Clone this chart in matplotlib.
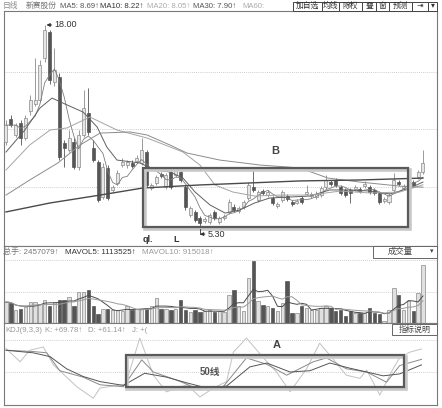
import numpy as np
import pandas as pd
import matplotlib
matplotlib.use("Agg")
import matplotlib.pyplot as plt
from matplotlib import patches

plt.rcParams['font.family'] = ['Liberation Sans', 'DejaVu Sans', 'Noto Sans CJK SC']
plt.rcParams['axes.unicode_minus'] = False

# 日K线 (开 高 低 收)
opens = [10.71, 12.15, 11.15, 11.90, 10.96, 12.64, 13.08, 13.33, 15.95, 17.56,
         14.45, 14.76, 10.65, 10.22, 10.71, 9.16, 11.15, 12.52, 10.34, 9.47,
         7.29, 9.10, 7.73, 8.16, 9.28, 9.28, 9.41, 9.53, 9.41, 10.09,
         7.85, 8.16, 8.72, 7.91, 8.85, 8.66, 8.85, 7.91, 6.17, 6.36,
         5.98, 5.80, 5.73, 6.36, 5.73, 5.98, 6.36, 6.67, 6.42, 6.67,
         7.23, 7.91, 7.10, 7.66, 7.41, 7.23, 6.73, 7.10, 7.35, 6.98,
         6.92, 7.23, 7.48, 7.35, 7.29, 7.41, 7.91, 8.22, 8.35, 7.91,
         7.73, 7.73, 7.79, 7.79, 7.97, 7.91, 7.73, 7.54, 7.04, 6.98,
         7.73, 8.22, 7.85, 7.91, 8.22, 8.53, 8.85]
highs = [12.08, 12.40, 11.90, 12.08, 12.40, 13.64, 15.95, 15.82, 18.00, 17.69,
         16.57, 15.00, 10.84, 11.46, 10.96, 11.46, 13.95, 14.08, 10.84, 9.59,
         9.41, 9.28, 8.04, 8.97, 9.72, 9.59, 9.59, 9.90, 10.96, 10.22,
         8.16, 8.66, 8.85, 8.78, 8.97, 9.10, 9.03, 8.04, 6.73, 6.48,
         6.11, 6.04, 6.29, 6.48, 6.11, 6.23, 7.16, 6.85, 6.73, 7.10,
         8.22, 9.10, 7.73, 7.79, 7.73, 7.35, 6.98, 7.73, 7.48, 7.10,
         7.16, 7.35, 8.04, 7.60, 7.66, 7.97, 8.66, 8.35, 8.47, 8.04,
         7.85, 7.85, 8.04, 7.91, 8.29, 8.04, 7.85, 7.66, 7.29, 7.54,
         8.78, 8.35, 8.10, 8.47, 8.35, 8.97, 10.22]
lows = [10.53, 11.65, 11.02, 10.53, 10.84, 12.40, 12.96, 13.20, 15.70, 14.30,
        14.20, 9.59, 9.16, 10.09, 9.03, 8.97, 11.02, 11.15, 9.47, 6.98,
        7.16, 7.10, 7.60, 8.04, 9.16, 9.10, 9.10, 9.41, 9.28, 7.91,
        7.73, 8.04, 8.47, 7.79, 7.79, 8.53, 8.22, 6.48, 6.04, 5.73,
        5.30, 5.67, 5.60, 5.86, 5.60, 5.86, 6.23, 6.36, 6.29, 6.54,
        7.10, 7.60, 6.98, 7.41, 7.29, 6.79, 6.60, 6.98, 7.04, 6.73,
        6.85, 6.85, 7.41, 7.23, 7.16, 7.29, 7.79, 7.97, 7.91, 7.41,
        7.29, 6.92, 7.66, 7.54, 7.85, 7.48, 7.41, 6.85, 6.92, 6.85,
        7.60, 7.97, 7.73, 7.79, 7.91, 8.41, 8.72]
closes = [11.77, 11.77, 11.77, 10.96, 12.21, 13.33, 13.33, 15.51, 17.69, 14.58,
          15.20, 9.78, 10.34, 10.96, 9.16, 11.15, 12.83, 11.34, 9.59, 7.10,
          9.16, 7.23, 7.91, 8.78, 9.47, 9.47, 9.22, 9.72, 10.22, 8.04,
          8.04, 8.53, 8.60, 8.66, 7.91, 8.97, 8.35, 6.67, 6.60, 5.86,
          5.67, 5.92, 6.17, 5.98, 5.98, 6.11, 6.98, 6.48, 6.60, 6.98,
          8.04, 7.73, 7.60, 7.54, 7.60, 6.92, 6.85, 7.60, 7.16, 6.85,
          7.04, 6.98, 7.60, 7.48, 7.48, 7.85, 8.35, 8.10, 8.04, 7.54,
          7.41, 7.54, 7.91, 7.66, 8.10, 7.60, 7.54, 6.98, 7.16, 7.41,
          8.35, 8.10, 7.97, 8.35, 8.04, 8.85, 9.41]

# 成交量 (手)
volumes = [883000, 841000, 547000, 589000, 673000, 883000, 883000, 799000, 947000, 736000,
           883000, 968000, 947000, 1094000, 736000, 1304000, 1304000, 1388000, 736000, 358000,
           589000, 589000, 526000, 526000, 505000, 736000, 526000, 589000, 589000, 589000,
           736000, 1052000, 589000, 589000, 526000, 589000, 968000, 526000, 463000, 526000,
           463000, 505000, 526000, 463000, 505000, 463000, 1195000, 1405000, 703000, 492000,
           1893000, 2596000, 913000, 774000, 703000, 631000, 492000, 841000, 1754000, 421000,
           421000, 703000, 631000, 564000, 564000, 631000, 703000, 631000, 492000, 564000,
           282000, 492000, 421000, 421000, 421000, 631000, 421000, 379000, 101000, 564000,
           1472000, 1195000, 564000, 913000, 492000, 1262000, 2457079]

# 均线
ma10_idx = [0, 3.9, 7.0, 9.5, 12.6, 15.9, 18.8, 20.8, 22.9, 27.6, 30.7, 33.8, 36.5, 39.0,
            42.1, 45.2, 48.2, 51.3, 54.4, 58.6, 62.7, 66.8, 70.9, 75.1, 79.2, 83.3, 86.0]
ma10_val = [10.09, 11.46, 12.83, 13.45, 13.02, 12.58, 11.65, 10.40, 9.59, 9.41, 8.97, 8.85, 8.47, 7.60,
            6.79, 6.29, 6.48, 6.92, 7.23, 7.29, 7.35, 7.73, 7.73, 7.66, 7.48, 7.85, 8.22]
ma20_idx = [0, 4.9, 9.1, 12.6, 17.3, 22.9, 29.1, 32.8, 36.5, 40.0, 43.1, 46.8, 51.3, 56.5,
            62.7, 68.9, 75.1, 81.2, 86.0]
ma20_val = [8.97, 10.53, 11.46, 11.59, 12.27, 11.46, 10.96, 10.53, 10.09, 9.28, 8.04, 7.60, 7.35, 7.41,
            7.41, 7.66, 7.54, 7.60, 8.05]
ma30_idx = [0, 4.9, 10.7, 15.3, 19.4, 25.6, 29.1, 33.8, 37.3, 44.1, 52.4, 60.6, 66.4, 73.0, 81.2, 86.0]
ma30_val = [7.41, 8.35, 9.41, 10.53, 11.27, 11.34, 11.15, 10.53, 10.03, 9.59, 9.28, 9.10, 8.47, 8.22,
            7.97, 7.90]
ma60_idx = [0, 9.1, 19.4, 28.2, 40.0, 60.6, 73.0, 86.0]
ma60_val = [6.36, 6.92, 7.41, 7.85, 8.04, 8.29, 8.35, 8.47]

# KDJ
k_idx = [0, 5.6, 8.4, 11.1, 15.9, 19.4, 24.2, 28.0, 30.4, 36.0, 40.0, 44.8, 49.6, 53.8, 57.9,
         63.4, 66.1, 70.2, 74.4, 78.5, 81.2, 85.7]
k_val = [84, 82, 80, 52, 42, 30, 27, 69, 50, 35, 22, 27, 72, 62, 45, 66, 72, 55, 50, 34, 60, 69.78]
d_idx = [0, 5.6, 9.1, 12.5, 15.9, 19.4, 24.2, 28.6, 33.1, 37.3, 41.4, 45.5, 50.3, 53.8, 58.6,
         62.7, 66.8, 70.9, 74.4, 77.8, 81.2, 85.7]
d_val = [84, 80, 74, 55, 43, 35, 29, 48, 42, 33, 25, 28, 58, 64, 50, 52, 64, 56, 50, 44, 47, 61.14]
j_idx = [0, 2.9, 4.9, 7.7, 9.8, 14.6, 18.0, 19.4, 22.1, 24.7, 27.6, 30.4, 33.1, 37.3, 40.0, 42.8,
         45.5, 46.9, 49.6, 53.1, 55.8, 58.6, 62.0, 64.7, 67.5, 70.2, 73.0, 74.4, 77.1, 79.9, 81.2,
         83.3, 85.7]
j_val = [87, 66, 84, 89, 61, 27, 9, 25, 28, 31, 103, 45, 19, 30, 11, 25, 35, 81, 103, 72, 50, 19,
         55, 95, 70, 45, 40, 53, 14, 56, 72, 81, 86]

price_grid = [7.9, 11.5, 15.1]
vol_grid = [1300000, 2650000]
kdj_grid = [50, 100]

W, H = 442, 408
fig = plt.figure(figsize=(W / 100, H / 100), dpi=100)


def px_axes(x0, y0, x1, y1, z=1):
    return fig.add_axes([x0 / W, 1 - y1 / H, (x1 - x0) / W, (y1 - y0) / H], zorder=z)


ax_p = px_axes(4, 11, 437, 246)
ax_v = px_axes(4, 246, 437, 323)
ax_k = px_axes(4, 323, 437, 405)
for ax in (ax_p, ax_v, ax_k):
    ax.set_xlim(-0.41, 88.9)
    ax.set_xticks([])
    ax.set_yticks([])
    for s in ax.spines.values():
        s.set_color('#7a7a7a')
        s.set_linewidth(0.8)
ax_p.set_ylim(4.24, 18.87)
ax_v.set_ylim(0, 3240000)
ax_k.set_ylim(-1.6, 126.6)

grid_kw = dict(color='#bdbdbd', lw=0.6, linestyle=(0, (1, 1.5)), zorder=0)
for g in price_grid:
    ax_p.axhline(g, **grid_kw)
for g in vol_grid:
    ax_v.axhline(g, **grid_kw)
for g in kdj_grid:
    ax_k.axhline(g, **grid_kw)

o = np.array(opens)
h = np.array(highs)
l = np.array(lows)
c = np.array(closes)
v = np.array(volumes)
idx = np.arange(len(c))
up = c >= o
up_face, up_edge, dn_col = '#e6e6e6', '#8a8a8a', '#555555'

# K线
ax_p.vlines(idx[up], l[up], h[up], color=up_edge, lw=0.6, zorder=2)
ax_p.vlines(idx[~up], l[~up], h[~up], color=dn_col, lw=0.6, zorder=2)
body = np.maximum(np.abs(c - o), 0.06)
bottom = np.minimum(o, c)
ax_p.bar(idx[up], body[up], bottom=bottom[up], width=0.62, color=up_face,
         edgecolor=up_edge, lw=0.5, zorder=3)
ax_p.bar(idx[~up], body[~up], bottom=bottom[~up], width=0.62, color=dn_col,
         edgecolor=dn_col, lw=0.5, zorder=3)

ma5 = pd.Series(c).rolling(5, min_periods=1).mean()
ax_p.plot(idx, ma5, color='#7d7d7d', lw=0.6, zorder=4)
ax_p.plot(ma10_idx, ma10_val, color='#606060', lw=0.7, zorder=4)
ax_p.plot(ma20_idx, ma20_val, color='#a5a5a5', lw=0.7, zorder=4)
ax_p.plot(ma30_idx, ma30_val, color='#8c8c8c', lw=0.7, zorder=4)
ax_p.plot(ma60_idx, ma60_val, color='#4a4a4a', lw=1.0, zorder=4)

# 成交量
ax_v.bar(idx[up], v[up], width=0.7, color='#e0e0e0', edgecolor=up_edge, lw=0.5, zorder=2)
ax_v.bar(idx[~up], v[~up], width=0.7, color=dn_col, edgecolor=dn_col, lw=0.5, zorder=2)
ax_v.plot(idx, pd.Series(v).rolling(5, min_periods=1).mean(), color='#4a4a4a', lw=0.7, zorder=3)
ax_v.plot(idx, pd.Series(v).rolling(10, min_periods=1).mean(), color='#9a9a9a', lw=0.7, zorder=3)

# KDJ
ax_k.plot(j_idx, j_val, color='#c2c2c2', lw=0.7, zorder=2)
ax_k.plot(k_idx, k_val, color='#8a8a8a', lw=0.7, zorder=3)
ax_k.plot(d_idx, d_val, color='#555555', lw=0.7, zorder=3)


def shadow_box(ax, x0, x1, y0, y1, dx, dy):
    ax.add_patch(patches.Rectangle((x0 + dx, y0 - dy), x1 - x0, y1 - y0, fill=False,
                                   ec='#c8c8c8', lw=2.6, zorder=5))
    ax.add_patch(patches.Rectangle((x0, y0), x1 - x0, y1 - y0, fill=False,
                                   ec='#5a5a5a', lw=1.6, zorder=6))


shadow_box(ax_p, 28.3, 83.0, 5.42, 9.10, 0.35, 0.12)
ax_p.text(55.5, 10.15, "B", fontsize=8, fontweight='bold', color='#444444',
          ha='center', va='center', zorder=7)
ax_p.annotate("18.00", xy=(8.35, 18.0), xytext=(10.0, 18.0), fontsize=6.5, color='#333333',
              ha='left', va='center',
              arrowprops=dict(arrowstyle='-|>', color='#333333', lw=0.7,
                              mutation_scale=5, shrinkA=0, shrinkB=0))
ax_p.plot([40, 40], [lows[40], 4.98], color='#333333', lw=0.6, zorder=5)
ax_p.annotate("5.30", xy=(40.0, 4.98), xytext=(41.6, 4.98), fontsize=6.5, color='#333333',
              ha='left', va='center',
              arrowprops=dict(arrowstyle='-|>', color='#333333', lw=0.7,
                              mutation_scale=5, shrinkA=0, shrinkB=0))

shadow_box(ax_k, 24.7, 82.1, 26.6, 76.6, 0.35, 3.0)
ax_k.text(55.9, 92, "A", fontsize=8, fontweight='bold', color='#444444',
          ha='center', va='center', zorder=7)
ax_k.text(42, 50, "50线", fontsize=7, fontweight='bold', color='#555555',
          ha='center', va='center', zorder=7)

# 顶部/标题栏文字
ov = fig.add_axes([0, 0, 1, 1], zorder=10)
ov.set_xlim(0, W)
ov.set_ylim(H, 0)
ov.axis('off')
ov.patch.set_alpha(0)

header = [("日线", 3, '#8a8a8a'), ("新赛股份", 26, '#777777'), ("MA5: 8.69↑", 60, '#555555'),
          ("MA10: 8.22↑", 100, '#333333'), ("MA20: 8.05↑", 147, '#ababab'),
          ("MA30: 7.90↑", 193, '#555555'), ("MA60:", 242, '#ababab')]
for txt, x, col in header:
    ov.text(x, 6, txt, fontsize=5.6, color=col, ha='left', va='center')

buttons = [("加自选", 293, 322), ("均线", 322, 339), ("除权", 339, 362), ("叠", 362, 376),
           ("窗", 376, 389), ("预测", 389, 412), ("⇥", 412, 428), ("▾", 428, 437)]
for txt, x0, x1 in buttons:
    ov.add_patch(patches.Rectangle((x0, 1.5), x1 - x0, 9, fill=True, fc='white',
                                   ec='#444444', lw=0.7))
    ov.text((x0 + x1) / 2, 6, txt, fontsize=5.6, color='#333333', ha='center', va='center')

vol_head = [("总手: 2457079↑", 3, '#777777'), ("MAVOL5: 1113525↑", 65, '#333333'),
            ("MAVOL10: 915018↑", 142, '#9a9a9a')]
for txt, x, col in vol_head:
    ov.text(x, 252, txt, fontsize=5.8, color=col, ha='left', va='center')
ov.add_patch(patches.Rectangle((373, 246), 64, 12, fill=True, fc='white', ec='#666666', lw=0.7))
ov.text(400, 252, "成交量", fontsize=6, color='#444444', ha='center', va='center')
ov.text(432, 252, "▾", fontsize=5, color='#444444', ha='center', va='center')

kdj_head = [("KDJ(9,3,3)", 5), ("K: +69.78↑", 45), ("D: +61.14↑", 88), ("J: +(", 132)]
for txt, x in kdj_head:
    ov.text(x, 330, txt, fontsize=5.6, color='#9a9a9a', ha='left', va='center')
ov.add_patch(patches.Rectangle((392, 324), 45, 11, fill=True, fc='white', ec='#666666', lw=0.7))
ov.text(414.5, 329.5, "指标说明", fontsize=5.8, color='#444444', ha='center', va='center')

ov.text(148, 240, "ql.", fontsize=6.5, fontweight='bold', color='#333333', ha='center', va='center')
ov.text(176, 240, "L", fontsize=6.5, fontweight='bold', color='#333333', ha='center', va='center')

fig.savefig("out.png", dpi=100)
